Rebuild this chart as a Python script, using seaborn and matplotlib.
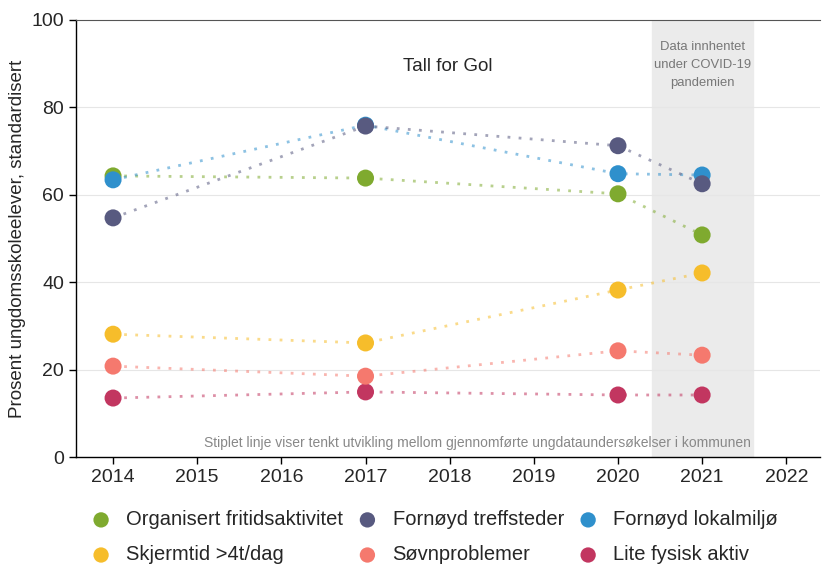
import matplotlib.pyplot as plt
import pandas as pd
import seaborn as sns

years = [2014, 2017, 2020, 2021]
organisert = [64.3, 63.8, 60.2, 50.8]
treffsteder = [54.7, 75.7, 71.2, 62.5]
lokalmiljo = [63.4, 75.9, 64.8, 64.5]
skjermtid = [28.1, 26.1, 38.2, 42.1]
sovn = [20.8, 18.5, 24.3, 23.3]
lite_aktiv = [13.5, 14.9, 14.2, 14.2]

series = {
    'Organisert fritidsaktivitet': organisert,
    'Skjermtid >4t/dag': skjermtid,
    'Fornøyd treffsteder': treffsteder,
    'Søvnproblemer': sovn,
    'Fornøyd lokalmiljø': lokalmiljo,
    'Lite fysisk aktiv': lite_aktiv,
}
colors = {
    'Organisert fritidsaktivitet': '#7faa2f',
    'Skjermtid >4t/dag': '#f6bd2b',
    'Fornøyd treffsteder': '#585a80',
    'Søvnproblemer': '#f5796e',
    'Fornøyd lokalmiljø': '#2f90cc',
    'Lite fysisk aktiv': '#c23660',
}
draw_order = ['Lite fysisk aktiv', 'Søvnproblemer', 'Skjermtid >4t/dag',
              'Organisert fritidsaktivitet', 'Fornøyd lokalmiljø', 'Fornøyd treffsteder']

rows = []
for name, vals in series.items():
    for y, v in zip(years, vals):
        rows.append({'år': y, 'verdi': v, 'serie': name})
df = pd.DataFrame(rows)

sns.set_style('white')
plt.rcParams['font.family'] = ['Liberation Sans', 'DejaVu Sans']

fig = plt.figure(figsize=(8.22, 5.65), dpi=100)
ax = fig.add_axes([0.0925, 0.191, 0.905, 0.774])

# skravert felt for covid-året
ax.axvspan(2020.4, 2021.6, color='#ebebeb', zorder=0)
for v in [20, 40, 60, 80]:
    ax.axhline(v, color='#e6e6e6', lw=0.8, zorder=0.5)

for name in draw_order:
    sub = df[df['serie'] == name]
    sns.lineplot(data=sub, x='år', y='verdi', color=colors[name], linestyle=(0, (1, 3)),
                 lw=2, alpha=0.55, ax=ax, legend=False, zorder=2)
for name in draw_order:
    sub = df[df['serie'] == name]
    sns.scatterplot(data=sub, x='år', y='verdi', color=colors[name], s=150,
                    edgecolor='none', ax=ax, zorder=3, label=name)

ax.set_xlim(2013.56, 2022.4)
ax.set_ylim(0, 100)
ax.set_xticks(range(2014, 2023))
ax.set_yticks([0, 20, 40, 60, 80, 100])
ax.tick_params(axis='both', labelsize=14, length=5, width=1, color='black',
               direction='out', bottom=True, left=True)
ax.set_xlabel('')
ax.set_ylabel('Prosent ungdomsskoleelever, standardisert', fontsize=13.5)

for s in ['left', 'bottom']:
    ax.spines[s].set_color('black')
    ax.spines[s].set_linewidth(1)
ax.spines['top'].set_color('#555555')
ax.spines['right'].set_visible(False)

ax.text(0.5, 0.894, 'Tall for Gol', transform=ax.transAxes, ha='center', va='center', fontsize=13.5)
ax.text(2021, 89.7, 'Data innhentet\nunder COVID-19\npandemien', ha='center', va='center',
        fontsize=9.4, color='#777777', linespacing=1.65)
ax.text(2021.58, 3.2, 'Stiplet linje viser tenkt utvikling mellom gjennomførte ungdataundersøkelser i kommunen',
        ha='right', va='center', fontsize=10, color='#888888')

handles, labels = ax.get_legend_handles_labels()
lookup = dict(zip(labels, handles))
order = list(series.keys())
ax.legend([lookup[n] for n in order], order, ncol=3, frameon=False,
          loc='upper left', bbox_to_anchor=(0.012, -0.103), fontsize=14.5,
          handlelength=0.8, handletextpad=0.85, columnspacing=0.8,
          labelspacing=0.8, markerscale=0.9, borderaxespad=0)

fig.savefig('out.png', dpi=100)
